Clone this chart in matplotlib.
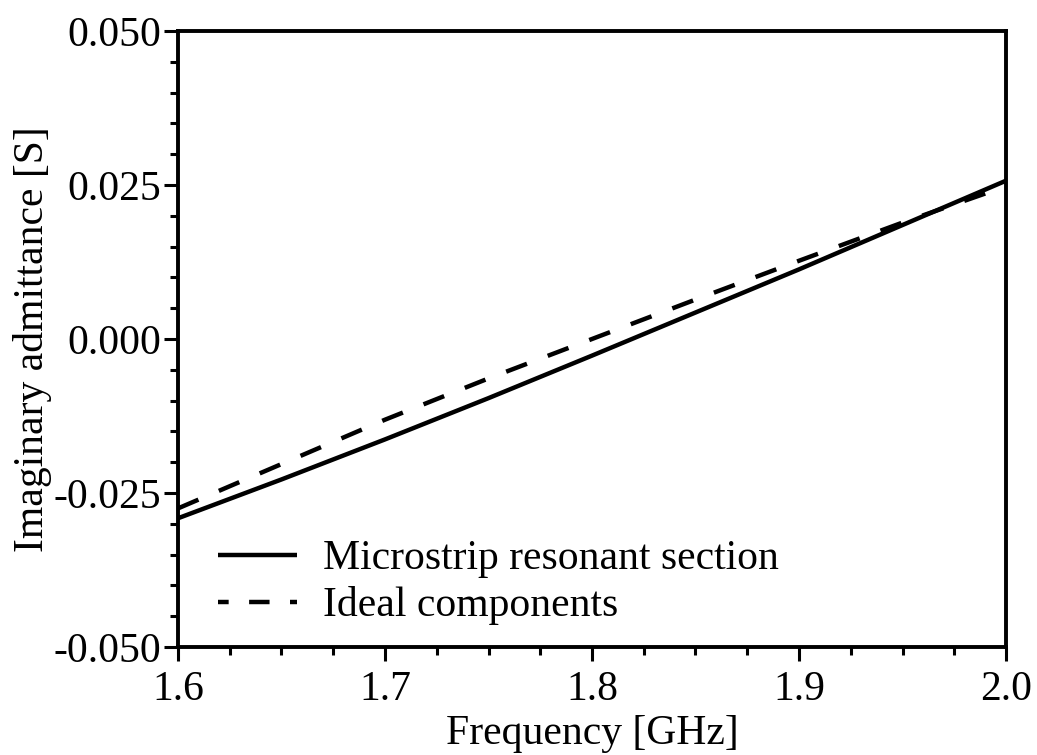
import matplotlib
matplotlib.use("Agg")
import matplotlib.pyplot as plt
from matplotlib.ticker import MultipleLocator, FormatStrFormatter

freq = [1.6, 1.65, 1.7, 1.75, 1.8, 1.85, 1.9, 1.95, 2.0]
microstrip = [-0.0291, -0.0228, -0.0163, -0.0096, -0.0027, 0.0043, 0.0113, 0.0185, 0.0257]
ideal = [-0.0275, -0.0203, -0.0131, -0.0064, 0.0000, 0.0064, 0.0127, 0.0189, 0.0248]
labels = ["Microstrip resonant section", "Ideal components"]
xlabel = "Frequency [GHz]"
ylabel = "Imaginary admittance [S]"

plt.rcParams['font.family'] = ['Liberation Serif', 'DejaVu Serif']
plt.rcParams['font.size'] = 30

fig = plt.figure(figsize=(10.37, 7.55), dpi=100)
ax = fig.add_axes([178/1037, 1-647/755, (1006-178)/1037, (647-31)/755])

ax.plot(freq, microstrip, color='black', lw=3.2, solid_capstyle='butt', label=labels[0])
ax.plot(freq, ideal, color='black', lw=3.2, linestyle=(0, (5, 5)), label=labels[1])

ax.set_xlim(1.6, 2.0)
ax.set_ylim(-0.05, 0.05)
ax.xaxis.set_major_locator(MultipleLocator(0.1))
ax.xaxis.set_minor_locator(MultipleLocator(0.025))
ax.yaxis.set_major_locator(MultipleLocator(0.025))
ax.yaxis.set_minor_locator(MultipleLocator(0.005))
ax.xaxis.set_major_formatter(FormatStrFormatter('%.1f'))
ax.yaxis.set_major_formatter(FormatStrFormatter('%.3f'))

for s in ax.spines.values():
    s.set_linewidth(2.8)
ax.tick_params(which='major', direction='out', length=10, width=2.2, pad=2,
               top=False, right=False, labelsize=30)
ax.tick_params(which='minor', direction='out', length=6, width=2.2,
               top=False, right=False)
ax.tick_params(axis='x', which='major', pad=7)

ax.set_xlabel(xlabel, fontsize=30, labelpad=4)
ax.set_ylabel(ylabel, fontsize=30, labelpad=1)

leg = ax.legend(loc='lower left', bbox_to_anchor=((218-178)/828, 0.035),
                frameon=False, borderpad=0, borderaxespad=0,
                handlelength=1.9, handletextpad=0.62, labelspacing=0.2,
                fontsize=30)
leg.get_lines()[1].set_linestyle((2.2, (4.6, 4.6)))

fig.savefig("out.png", dpi=100)
